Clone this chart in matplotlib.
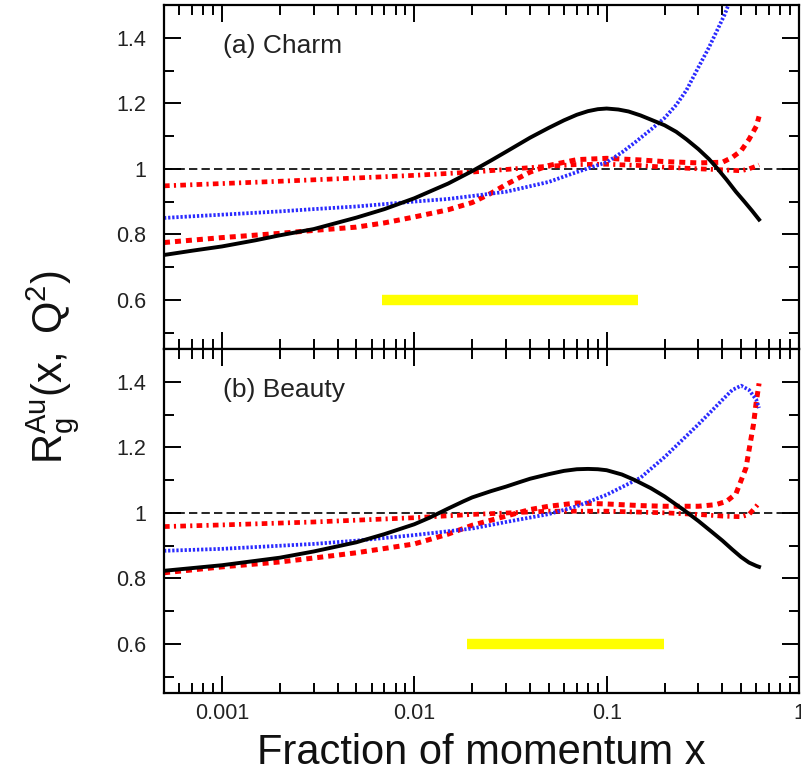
import matplotlib
matplotlib.use("Agg")
import matplotlib.pyplot as plt
from matplotlib.ticker import LogLocator, MultipleLocator, FormatStrFormatter, NullFormatter

plt.rcParams['font.family'] = ['Liberation Sans', 'DejaVu Sans']
plt.rcParams['mathtext.fontset'] = 'custom'
plt.rcParams['mathtext.rm'] = 'Liberation Sans'
plt.rcParams['mathtext.it'] = 'Liberation Sans:italic'

# ---- data ----
# (a) charm
charm_black_x = [5e-4, 7e-4, 0.001, 0.0015, 0.002, 0.003, 0.005, 0.007, 0.01, 0.015, 0.02,
                 0.025, 0.03, 0.04, 0.05, 0.06, 0.07, 0.08, 0.09, 0.1, 0.115, 0.13, 0.15,
                 0.17, 0.2, 0.23, 0.26, 0.3, 0.34, 0.37, 0.42, 0.47, 0.52, 0.57, 0.62]
charm_black_y = [0.737, 0.75, 0.763, 0.782, 0.797, 0.816, 0.851, 0.877, 0.91, 0.955, 0.993,
                 1.025, 1.052, 1.095, 1.125, 1.148, 1.165, 1.176, 1.182, 1.184, 1.181, 1.175,
                 1.163, 1.15, 1.133, 1.113, 1.09, 1.06, 1.03, 1.006, 0.967, 0.93, 0.9,
                 0.872, 0.845]

charm_blue_x = [5e-4, 7e-4, 0.001, 0.002, 0.003, 0.005, 0.01, 0.015, 0.02, 0.03, 0.05, 0.07,
                0.1, 0.12, 0.14, 0.17, 0.2, 0.23, 0.26, 0.3, 0.34, 0.37, 0.41, 0.45]
charm_blue_y = [0.85, 0.855, 0.86, 0.87, 0.877, 0.885, 0.9, 0.908, 0.917, 0.93, 0.96, 0.99,
                1.02, 1.05, 1.08, 1.12, 1.155, 1.195, 1.24, 1.31, 1.37, 1.415, 1.47, 1.53]

charm_red_x = [5e-4, 0.001, 0.002, 0.003, 0.005, 0.007, 0.01, 0.015, 0.02, 0.025, 0.03,
               0.04, 0.05, 0.07, 0.1, 0.15, 0.2, 0.3, 0.4, 0.45, 0.5, 0.55, 0.6, 0.62]
charm_red_y = [0.775, 0.79, 0.803, 0.812, 0.822, 0.835, 0.853, 0.875, 0.897, 0.925, 0.952,
               0.99, 1.01, 1.028, 1.032, 1.027, 1.022, 1.018, 1.02, 1.035, 1.055, 1.09,
               1.13, 1.16]

charm_reddd_x = [5e-4, 0.001, 0.002, 0.005, 0.01, 0.02, 0.03, 0.05, 0.07, 0.1, 0.15, 0.2,
                 0.3, 0.4, 0.5, 0.55, 0.6, 0.62]
charm_reddd_y = [0.948, 0.955, 0.962, 0.972, 0.98, 0.99, 0.998, 1.008, 1.013, 1.014, 1.01,
                 1.005, 1.0, 0.997, 0.994, 1.0, 1.008, 1.012]

charm_band = [0.0068, 0.145]

# (b) beauty
beauty_black_x = [5e-4, 0.001, 0.002, 0.003, 0.005, 0.007, 0.01, 0.012, 0.015, 0.018, 0.02,
                  0.025, 0.03, 0.035, 0.04, 0.05, 0.06, 0.07, 0.08, 0.09, 0.1, 0.12, 0.14,
                  0.17, 0.2, 0.25, 0.3, 0.35, 0.4, 0.45, 0.5, 0.55, 0.6, 0.62]
beauty_black_y = [0.823, 0.84, 0.863, 0.882, 0.91, 0.935, 0.965, 0.985, 1.013, 1.035, 1.047,
                  1.066, 1.08, 1.093, 1.104, 1.118, 1.128, 1.133, 1.134, 1.133, 1.13, 1.117,
                  1.1, 1.075, 1.05, 1.01, 0.975, 0.943, 0.915, 0.888, 0.865, 0.848, 0.838,
                  0.835]

beauty_blue_x = [5e-4, 0.001, 0.003, 0.005, 0.01, 0.02, 0.03, 0.05, 0.07, 0.1, 0.15, 0.2,
                 0.25, 0.3, 0.35, 0.4, 0.45, 0.5, 0.55, 0.6, 0.62]
beauty_blue_y = [0.884, 0.89, 0.905, 0.915, 0.932, 0.952, 0.972, 0.996, 1.02, 1.055, 1.107,
                 1.17, 1.225, 1.27, 1.31, 1.345, 1.375, 1.388, 1.375, 1.345, 1.32]

beauty_red_x = [5e-4, 0.001, 0.002, 0.003, 0.005, 0.01, 0.015, 0.02, 0.03, 0.04, 0.05, 0.07,
                0.1, 0.15, 0.2, 0.3, 0.37, 0.42, 0.47, 0.53, 0.58, 0.6, 0.62]
beauty_red_y = [0.817, 0.835, 0.85, 0.862, 0.878, 0.905, 0.935, 0.962, 0.99, 1.01, 1.02, 1.03,
                1.027, 1.022, 1.02, 1.02, 1.025, 1.035, 1.058, 1.137, 1.27, 1.34, 1.395]

beauty_reddd_x = [5e-4, 0.001, 0.003, 0.01, 0.02, 0.05, 0.1, 0.2, 0.3, 0.4, 0.5, 0.55, 0.6,
                  0.62]
beauty_reddd_y = [0.958, 0.963, 0.972, 0.985, 0.995, 1.005, 1.005, 1.0, 0.995, 0.99, 0.988,
                  0.995, 1.02, 1.03]

beauty_band = [0.0188, 0.198]

panels = [
    ("(a) Charm", charm_black_x, charm_black_y, charm_blue_x, charm_blue_y,
     charm_red_x, charm_red_y, charm_reddd_x, charm_reddd_y, charm_band),
    ("(b) Beauty", beauty_black_x, beauty_black_y, beauty_blue_x, beauty_blue_y,
     beauty_red_x, beauty_red_y, beauty_reddd_x, beauty_reddd_y, beauty_band),
]

fig = plt.figure(figsize=(8.01, 7.75), dpi=100)
left, width = 164 / 801, 635 / 801
boxes = [[left, 1 - 349 / 775, width, 344 / 775],
         [left, 1 - 693 / 775, width, 344 / 775]]

for i, (name, bx, by, ux, uy, rx, ry, dx, dy, band) in enumerate(panels):
    ax = fig.add_axes(boxes[i])
    ax.set_xscale('log')
    ax.set_xlim(5e-4, 1)
    ax.set_ylim(0.45, 1.5)

    ax.axhline(1.0, color='black', lw=1.2, dashes=(5, 2.5), zorder=1)
    ax.plot(band, [0.6, 0.6], color='#ffff00', lw=7.5, solid_capstyle='butt')
    ax.plot(dx, dy, color='#ff0000', lw=3.4, dashes=(1.2, 0.9, 0.45, 0.9))
    ax.plot(rx, ry, color='#ff0000', lw=3.6, dashes=(1.2, 1.0))
    ax.plot(ux, uy, color='#2a2aff', lw=2.7, dashes=(0.6, 0.5))
    ax.plot(bx, by, color='black', lw=2.8)

    ax.text(0.093, 0.86, name, transform=ax.transAxes, fontsize=19, color='#222222',
            va='baseline')

    ax.yaxis.set_major_locator(MultipleLocator(0.2))
    ax.yaxis.set_minor_locator(MultipleLocator(0.1))
    ax.yaxis.set_major_formatter(FormatStrFormatter('%g'))
    ax.xaxis.set_major_locator(LogLocator(base=10, numticks=10))
    ax.xaxis.set_minor_locator(LogLocator(base=10, subs=range(2, 10), numticks=10))
    ax.xaxis.set_minor_formatter(NullFormatter())
    ax.xaxis.set_major_formatter(FormatStrFormatter('%g'))

    ax.tick_params(which='both', direction='in', top=True, right=True, width=1.4,
                   colors='black', labelcolor='#222222', labelsize=15.5)
    ax.tick_params(which='major', length=12)
    ax.tick_params(which='minor', length=7)
    ax.tick_params(axis='y', pad=13)
    ax.tick_params(axis='x', pad=7)
    for s in ax.spines.values():
        s.set_linewidth(1.6)
    if i == 0:
        ax.tick_params(axis='x', labelbottom=False)

fig.text(481 / 801, 1 - 764 / 775, 'Fraction of momentum x', fontsize=30,
         ha='center', va='baseline', color='#111111')
fig.text(63 / 801, 1 - 367 / 775, r'$\mathregular{R_g^{Au}(x,\;Q^2)}$', fontsize=30,
         rotation=90, rotation_mode='anchor', ha='center', va='baseline', color='#111111')

fig.savefig('out.png', dpi=100)
